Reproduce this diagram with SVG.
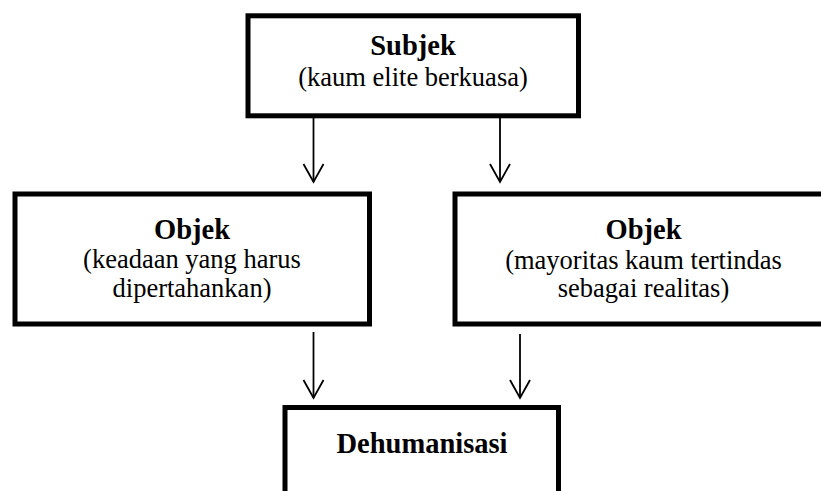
<svg xmlns="http://www.w3.org/2000/svg" width="821" height="491" viewBox="0 0 821 491">
  <style>
    .box { fill: #ffffff; stroke: #000000; stroke-width: 5; }
    .title { font-family: "Liberation Serif", "Times New Roman", serif; font-weight: bold; font-size: 28.5px; fill: #000; text-anchor: middle; }
    .sub { font-family: "Liberation Serif", "Times New Roman", serif; font-size: 26.5px; fill: #000; text-anchor: middle; }
    .conn { stroke: #000; stroke-width: 1.8; fill: none; marker-end: url(#arrow); }
  </style>
  <defs>
    <marker id="arrow" markerUnits="userSpaceOnUse" markerWidth="30" markerHeight="30" refX="0" refY="0" orient="auto" overflow="visible">
      <path d="M-18,-10 L0,0 L-18,10" fill="none" stroke="#000" stroke-width="1.8"/>
    </marker>
  </defs>
  <rect width="821" height="491" fill="#ffffff"/>
  <g id="subjek">
    <rect class="box" x="248" y="15.8" width="330.5" height="100"/>
    <text class="title" x="413" y="55">Subjek</text>
    <text class="sub" x="413" y="86">(kaum elite berkuasa)</text>
  </g>
  <g id="objek-kiri">
    <rect class="box" x="15" y="194" width="354.5" height="130"/>
    <text class="title" x="192" y="239">Objek</text>
    <text class="sub" x="192" y="268">(keadaan yang harus</text>
    <text class="sub" x="192" y="297">dipertahankan)</text>
  </g>
  <g id="objek-kanan">
    <rect class="box" x="455" y="194" width="380" height="130"/>
    <text class="title" x="643.5" y="239">Objek</text>
    <text class="sub" x="643.5" y="269">(mayoritas kaum tertindas</text>
    <text class="sub" x="643.5" y="297">sebagai realitas)</text>
  </g>
  <g id="dehumanisasi">
    <rect class="box" x="285" y="407.5" width="273.5" height="120"/>
    <text class="title" x="422" y="453">Dehumanisasi</text>
  </g>
  <g id="connectors">
    <line class="conn" x1="313.5" y1="118" x2="313.5" y2="182"/>
    <line class="conn" x1="500" y1="118" x2="500" y2="182"/>
    <line class="conn" x1="313.5" y1="332" x2="313.5" y2="398"/>
    <line class="conn" x1="520" y1="334" x2="520" y2="398"/>
  </g>
</svg>
